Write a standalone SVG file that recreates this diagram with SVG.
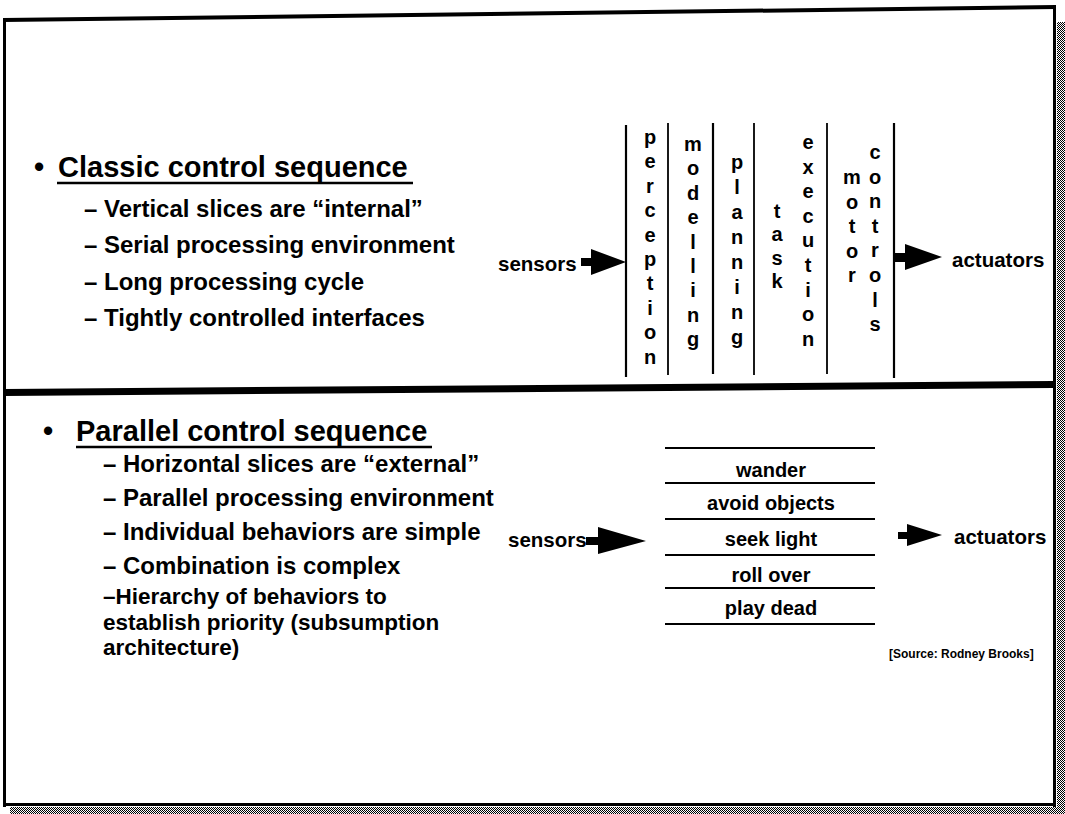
<svg xmlns="http://www.w3.org/2000/svg" width="1065" height="814" viewBox="0 0 1065 814">
<defs>
<pattern id="dither" width="2" height="2" patternUnits="userSpaceOnUse">
<rect width="2" height="2" fill="#fff"/>
<rect width="1" height="1" fill="#000"/>
<rect x="1" y="1" width="1" height="1" fill="#000"/>
</pattern>
<style>
text { font-family: "Liberation Sans", Arial, sans-serif; font-weight: bold; fill: #000; }
.h { font-size: 29px; }
.i { font-size: 24px; }
.i2 { font-size: 22.5px; }
.v { font-size: 20px; text-anchor: middle; }
.lbl { font-size: 20.5px; }
.layer { font-size: 20px; text-anchor: middle; }
.src { font-size: 12px; }
.col { stroke: #000; stroke-width: 2.2; fill: none; }
.colt { stroke: #000; stroke-width: 1.8; fill: none; }
.rule { stroke: #000; stroke-width: 2; fill: none; }
.ul { stroke: #000; stroke-width: 2.5; }
.arrow { fill: #000; }
</style>
</defs>
<rect width="1065" height="814" fill="#fff"/>
<g id="frame">
<rect x="1057" y="22" width="8" height="792" fill="url(#dither)"/>
<rect x="10" y="807" width="1055" height="7" fill="url(#dither)"/>
<polygon points="3,18 1056,5 1056,9 3,22" fill="#000"/>
<rect x="3" y="18" width="3" height="789" fill="#000"/>
<rect x="1053" y="5" width="3" height="802" fill="#000"/>
<rect x="3" y="803" width="1053" height="3" fill="#000"/>
<polygon points="5,389 1053,381 1053,388 5,396" fill="#000"/>
</g>
<g id="classic-heading">
<text class="h" x="34" y="177">•</text>
<text class="h" x="58" y="177">Classic control sequence</text>
<line class="ul" x1="57" y1="183" x2="413" y2="183"/>
</g>
<g id="classic-items">
<text class="i" x="84" y="217">– Vertical slices are “internal”</text>
<text class="i" x="84" y="253">– Serial processing environment</text>
<text class="i" x="84" y="290">– Long processing cycle</text>
<text class="i" x="84" y="326">– Tightly controlled interfaces</text>
</g>
<g id="slices-lines">
<line class="col" x1="626" y1="125" x2="626" y2="377"/>
<line class="colt" x1="668" y1="123" x2="668" y2="375"/>
<line class="col" x1="713" y1="123" x2="713" y2="374"/>
<line class="colt" x1="754" y1="123" x2="754" y2="375"/>
<line class="colt" x1="827" y1="123" x2="827" y2="374"/>
<line class="col" x1="894" y1="123" x2="894" y2="378"/>
</g>
<g id="perception"><text class="v"><tspan x="650" y="144">p</tspan><tspan x="650" dy="24.4">e</tspan><tspan x="650" dy="24.4">r</tspan><tspan x="650" dy="24.4">c</tspan><tspan x="650" dy="24.4">e</tspan><tspan x="650" dy="24.4">p</tspan><tspan x="650" dy="24.4">t</tspan><tspan x="650" dy="24.4">i</tspan><tspan x="650" dy="24.4">o</tspan><tspan x="650" dy="24.4">n</tspan></text></g>
<g id="modelling"><text class="v"><tspan x="693" y="151">m</tspan><tspan x="693" dy="24.4">o</tspan><tspan x="693" dy="24.4">d</tspan><tspan x="693" dy="24.4">e</tspan><tspan x="693" dy="24.4">l</tspan><tspan x="693" dy="24.4">l</tspan><tspan x="693" dy="24.4">i</tspan><tspan x="693" dy="24.4">n</tspan><tspan x="693" dy="24.4">g</tspan></text></g>
<g id="planning"><text class="v"><tspan x="737" y="169">p</tspan><tspan x="737" dy="25">l</tspan><tspan x="737" dy="25">a</tspan><tspan x="737" dy="25">n</tspan><tspan x="737" dy="25">n</tspan><tspan x="737" dy="25">i</tspan><tspan x="737" dy="25">n</tspan><tspan x="737" dy="25">g</tspan></text></g>
<g id="task"><text class="v"><tspan x="777" y="218">t</tspan><tspan x="777" dy="23.3">a</tspan><tspan x="777" dy="23.3">s</tspan><tspan x="777" dy="23.3">k</tspan></text></g>
<g id="execution"><text class="v"><tspan x="808" y="149">e</tspan><tspan x="808" dy="24.6">x</tspan><tspan x="808" dy="24.6">e</tspan><tspan x="808" dy="24.6">c</tspan><tspan x="808" dy="24.6">u</tspan><tspan x="808" dy="24.6">t</tspan><tspan x="808" dy="24.6">i</tspan><tspan x="808" dy="24.6">o</tspan><tspan x="808" dy="24.6">n</tspan></text></g>
<g id="motor"><text class="v"><tspan x="852" y="184">m</tspan><tspan x="852" dy="24.6">o</tspan><tspan x="852" dy="24.6">t</tspan><tspan x="852" dy="24.6">o</tspan><tspan x="852" dy="24.6">r</tspan></text></g>
<g id="controls"><text class="v"><tspan x="875" y="159">c</tspan><tspan x="875" dy="24.6">o</tspan><tspan x="875" dy="24.6">n</tspan><tspan x="875" dy="24.6">t</tspan><tspan x="875" dy="24.6">r</tspan><tspan x="875" dy="24.6">o</tspan><tspan x="875" dy="24.6">l</tspan><tspan x="875" dy="24.6">s</tspan></text></g>
<g id="sensors-top"><text class="lbl" x="498" y="271">sensors</text></g>
<g id="actuators-top"><text class="lbl" x="952" y="267">actuators</text></g>
<g id="parallel-heading">
<text class="h" x="43" y="441">•</text>
<text class="h" x="76" y="441">Parallel control sequence</text>
<line class="ul" x1="76" y1="447" x2="432" y2="447"/>
</g>
<g id="parallel-items">
<text class="i" x="103" y="472">– Horizontal slices are “external”</text>
<text class="i" x="103" y="506">– Parallel processing environment</text>
<text class="i" x="103" y="540">– Individual behaviors are simple</text>
<text class="i" x="103" y="574">– Combination is complex</text>
<text class="i2" x="103" y="604">–Hierarchy of behaviors to</text>
<text class="i2" x="103" y="629.5">establish priority (subsumption</text>
<text class="i2" x="103" y="655">architecture)</text>
</g>
<g id="layers-lines">
<line class="rule" x1="665" y1="448" x2="875" y2="448"/>
<line class="rule" x1="665" y1="483" x2="875" y2="483"/>
<line class="rule" x1="665" y1="519" x2="875" y2="519"/>
<line class="rule" x1="665" y1="555" x2="875" y2="555" stroke-width="2.5"/>
<line class="rule" x1="665" y1="588" x2="875" y2="588"/>
<line class="rule" x1="665" y1="624" x2="875" y2="624"/>
</g>
<g id="wander"><text class="layer" x="771" y="477">wander</text></g>
<g id="avoid-objects"><text class="layer" x="771" y="510">avoid objects</text></g>
<g id="seek-light"><text class="layer" x="771" y="546">seek light</text></g>
<g id="roll-over"><text class="layer" x="771" y="582">roll over</text></g>
<g id="play-dead"><text class="layer" x="771" y="615">play dead</text></g>
<g id="sensors-bottom"><text class="lbl" x="508" y="547">sensors</text></g>
<g id="actuators-bottom"><text class="lbl" x="954" y="544">actuators</text></g>
<g id="source"><text class="src" x="889" y="658">[Source: Rodney Brooks]</text></g>
<g id="connectors">
<path class="arrow" d="M581,258 H591 V249 L626,262 L591,275 V266 H581 Z"/>
<path class="arrow" d="M895,253 H905 V244 L942,257 L905,270 V262 H895 Z"/>
<path class="arrow" d="M586,537 H598 V527 L646,541 L598,554 V545 H586 Z"/>
<path class="arrow" d="M898,532 H907 V524 L942,535 L907,546 V539 H898 Z"/>
</g>
</svg>
